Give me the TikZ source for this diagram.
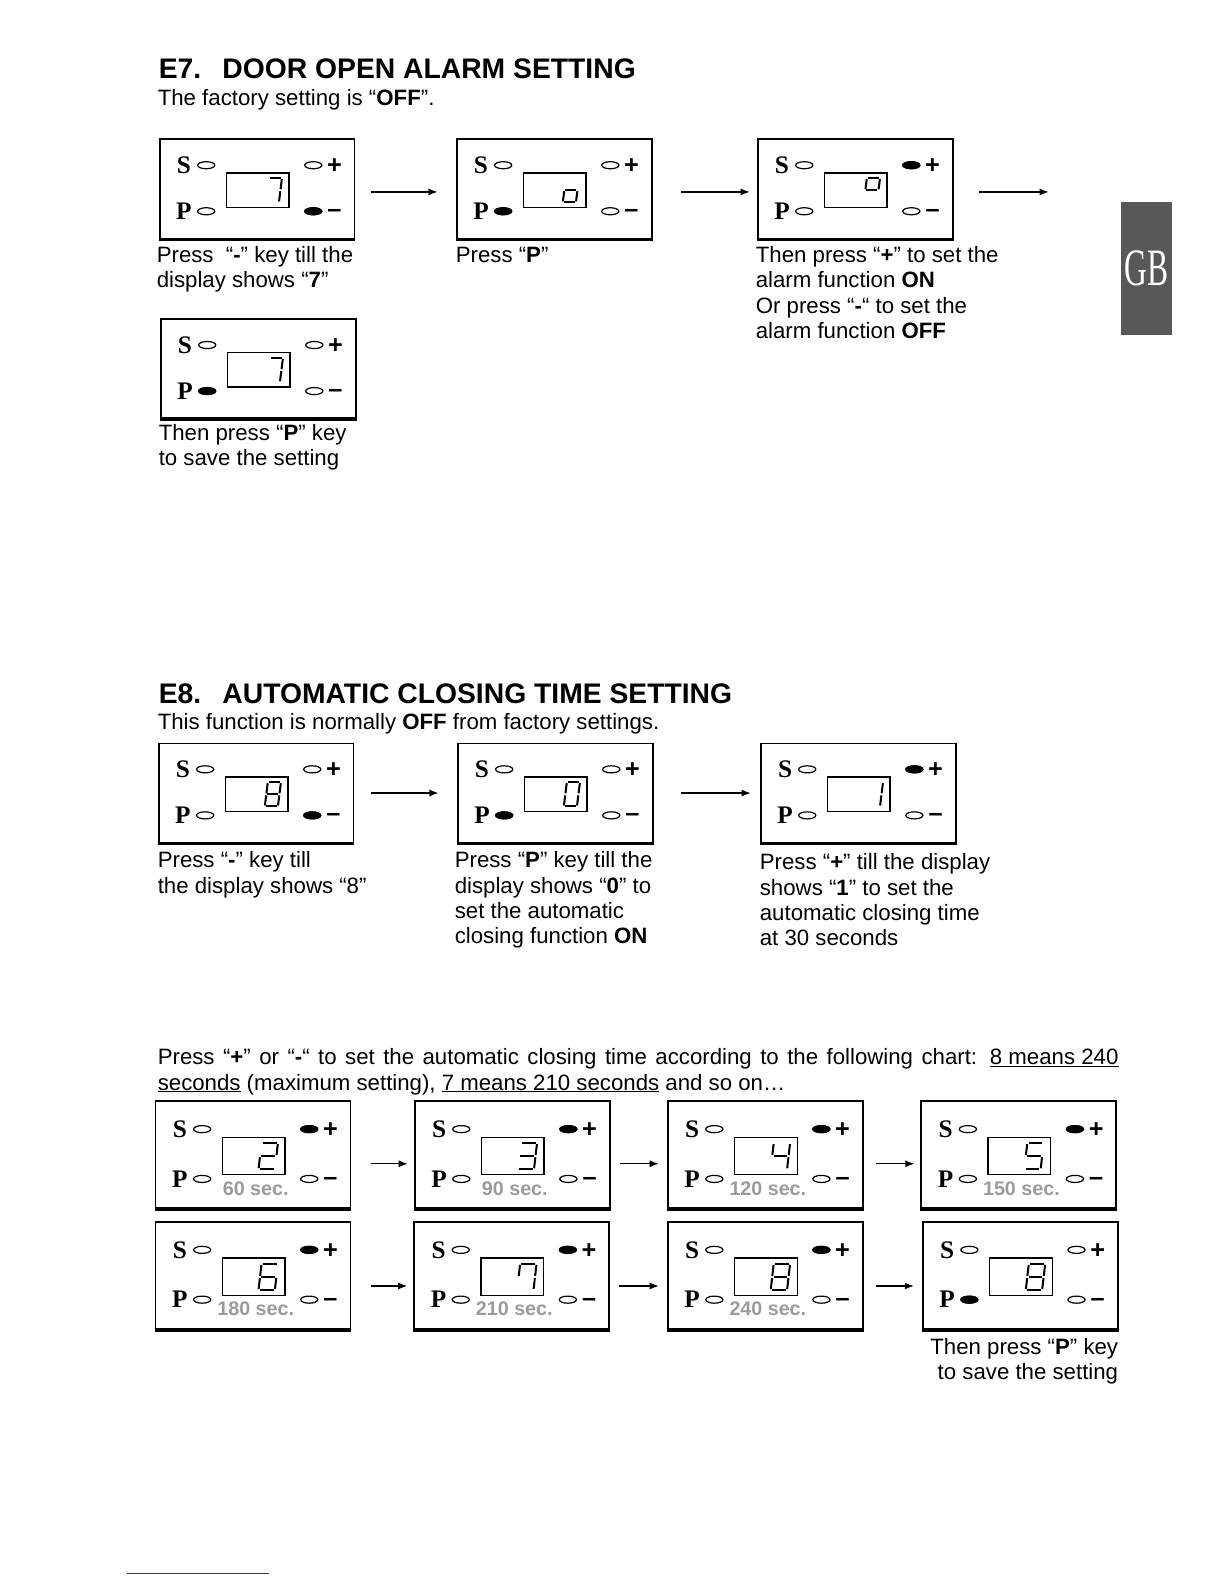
\documentclass[tikz,border=0pt]{standalone}
\usepackage{fontspec}
\setmainfont{Liberation Sans}
\newfontfamily\keyfont{Liberation Serif}
\usepackage{graphicx}
\usetikzlibrary{arrows.meta, calc}
\definecolor{gbgray}{HTML}{585858}
\definecolor{secgray}{HTML}{9A9A9A}
\definecolor{footblue}{HTML}{24386E}
\tikzset{
  panel/.style={draw, line width=1.8pt, minimum width=193pt, inner sep=0pt},
  display/.style={draw, line width=1.3pt},
  led/.style={draw, line width=1.2pt, fill=white},
  segment/.style={line width=2pt},
  keyletter/.style={font=\keyfont\bfseries\fontsize{25}{25}\selectfont, inner sep=0pt},
  keysign/.style={font=\bfseries\fontsize{25}{25}\selectfont, inner sep=0pt, anchor=base},
  seclabel/.style={font=\bfseries\fontsize{19.5}{20}\selectfont, text=secgray, inner sep=0pt, anchor=base},
  caption/.style={font=\fontsize{22}{25}\selectfont, align=left, inner sep=0pt, anchor=base west},
  heading/.style={font=\bfseries\fontsize{28}{32}\selectfont, inner sep=0pt, anchor=base west},
  arrow/.style={-{Latex[length=9pt, width=7pt]}, line width=1.2pt},
  gbtab/.style={fill=gbgray, minimum width=50pt, minimum height=132pt, inner sep=0pt,
                text=white, font=\keyfont\fontsize{52}{52}\selectfont}
}

% keypad: name, centre, height, lit segments, lit key (s,p,u,d), seconds label
\newcommand\keypad[6]{%
  \node[panel, minimum height=#3pt] (#1) at (#2) {};
  \draw[line width=2.5pt] ([yshift=-0.5pt]#1.south west) -- ([yshift=-0.5pt]#1.south east);
  \begin{scope}[shift={(#1.north west)}]
    \pgfmathsetmacro\rowS{0.27*#3}
    \pgfmathsetmacro\rowP{0.735*#3}
    \pgfmathsetmacro\digW{13+0.4*(#3-98)}
    \pgfmathsetmacro\digH{0.5*(0.245*#3)}
    \node[keyletter] at (25,\rowS) {S};
    \node[keyletter] at (25,\rowP) {P};
    \node[keysign] at (174,\rowS+8.5) {+};
    \node[keysign] at (174,\rowP+6.5) {–};
    \coordinate (#1-s) at (47,\rowS);
    \coordinate (#1-p) at (47,\rowP);
    \coordinate (#1-u) at (153,\rowS);
    \coordinate (#1-d) at (153,\rowP);
    \foreach \k in {s,p,u,d} \draw[led] (#1-\k) ellipse (8.5pt and 3.5pt);
    \fill (#1-#5) ellipse (9pt and 4pt);
    \draw[display] (67,0.347*#3) rectangle (129,0.694*#3);
    \begin{scope}[shift={(119-\digW,0.645*#3)}, x={(\digW pt,0pt)}, y={(1.5pt,\digH pt)}]
      \foreach \g/\xa/\ya/\xb/\yb in {a/0.08/2/0.92/2, b/1/1.92/1/1.08, c/1/0.92/1/0.08,
          d/0.08/0/0.92/0, e/0/0.08/0/0.92, f/0/1.08/0/1.92, g/0.08/1/0.92/1}
        {\coordinate (sg-\g-1) at (\xa,\ya); \coordinate (sg-\g-2) at (\xb,\yb);}
      \foreach \g in {#4} \draw[segment] (sg-\g-1) -- (sg-\g-2);
    \end{scope}
    \node[seclabel] at (100,0.887*#3) {#6};
  \end{scope}}

\begin{document}
\begin{tikzpicture}[x=1pt, y=-1pt]
  \useasboundingbox (0,0) rectangle (1212,1568);

  % E7
  \node[heading] (h7) at (157,78) {E7.\hspace{21pt}DOOR OPEN ALARM SETTING};
  \node[caption] (t7) at (156,104) {The factory setting is “\textbf{OFF}”.};

  \keypad{a1}{254.5,187}{98}{a,b,c}{d}{}
  \keypad{a2}{548.5,187}{98}{c,d,e,g}{p}{}
  \keypad{a3}{846.5,187}{98}{a,b,f,g}{u}{}
  \keypad{a4}{255.5,365}{98}{a,b,c}{p}{}
  \coordinate (a3end) at (1038,190);

  \draw[arrow, shorten <=15pt, shorten >=18pt] ([yshift=-3pt]a1.east) -- ([yshift=-3pt]a2.west);
  \draw[arrow, shorten <=28pt, shorten >=7pt] ([yshift=-3pt]a2.east) -- ([yshift=-3pt]a3.west);
  \draw[arrow, shorten <=25pt] ([yshift=-3pt]a3.east) -- (a3end);

  % multi-line captions sit on their last baseline
  \node[caption] (ca1) at (155,285) {Press\ \ “\textbf{-}” key till the\\display shows “\textbf{7}”};
  \node[caption] (ca2) at (451,260) {Press “\textbf{P}"};
  \node[caption] (ca3) at (748,335) {Then press “\textbf{+}” to set the\\alarm function \textbf{ON}\\Or press “\textbf{-}“ to set the\\alarm function \textbf{OFF}};
  \node[caption] (ca4) at (157,461) {Then press “\textbf{P}” key\\to save the setting};

  \node[gbtab] (gb) at (1135,266) {\scalebox{0.6}[1]{GB}};

  % E8
  \node[heading] (h8) at (157,696) {E8.\hspace{21pt}AUTOMATIC CLOSING TIME SETTING};
  \node[caption] (t8) at (156,722) {This function is normally \textbf{OFF} from factory settings.};

  \keypad{b1}{253.5,785}{98}{a,b,c,d,e,f,g}{d}{}
  \keypad{b2}{549.5,785}{98}{a,b,c,d,e,f}{p}{}
  \keypad{b3}{849.5,785}{98}{b,c}{u}{}

  \draw[arrow, shorten <=16pt, shorten >=18pt] (b1.east) -- (b2.west);
  \draw[arrow, shorten <=27pt, shorten >=9pt] (b2.east) -- (b3.west);

  \node[caption] (cb1) at (156,884) {Press “\textbf{-}” key till\\the display shows “8”};
  \node[caption] (cb2) at (450,934) {Press “\textbf{P}” key till the\\display shows “\textbf{0}” to\\set the automatic\\closing function \textbf{ON}};
  \node[caption] (cb3) at (752,936) {Press “\textbf{+}” till the display\\shows “\textbf{1}” to set the\\automatic closing time\\at 30 seconds};

  \node[caption, text width=951pt, align=justify] (chart) at (156,1054)
    {Press “\textbf{+}” or “\textbf{-}“ to set the automatic closing time according to the following chart: \underline{8 means 240}\linebreak
     \underline{seconds} (maximum setting), \underline{7 means 210 seconds} and so on…};

  \keypad{c1}{250.5,1143}{106}{a,b,g,e,d}{u}{60 sec.}
  \keypad{c2}{507,1143}{106}{a,b,g,c,d}{u}{90 sec.}
  \keypad{c3}{757.5,1143}{106}{f,g,b,c}{u}{120 sec.}
  \keypad{c4}{1008.5,1143}{106}{a,f,g,c,d}{u}{150 sec.}

  \keypad{d1}{250.5,1262.5}{106}{a,f,g,e,d,c}{u}{180 sec.}
  \keypad{d2}{506.5,1262.5}{106}{a,b,c,f}{u}{210 sec.}
  \keypad{d3}{757.5,1262.5}{106}{a,b,c,d,e,f,g}{u}{240 sec.}
  \keypad{d4}{1010,1262.5}{106}{a,b,c,d,e,f,g}{p}{}

  \draw[arrow, shorten <=19pt, shorten >=6pt] ([yshift=-9pt]c1.east) -- ([yshift=-9pt]c2.west);
  \draw[arrow, shorten <=9pt, shorten >=8pt] ([yshift=-9pt]c2.east) -- ([yshift=-9pt]c3.west);
  \draw[arrow, shorten <=12pt, shorten >=6pt] ([yshift=-9pt]c3.east) -- ([yshift=-9pt]c4.west);
  \draw[arrow, shorten <=19pt, shorten >=6pt] ([yshift=-10.5pt]d1.east) -- ([yshift=-10.5pt]d2.west);
  \draw[arrow, shorten <=9pt, shorten >=8pt] ([yshift=-10.5pt]d2.east) -- ([yshift=-10.5pt]d3.west);
  \draw[arrow, shorten <=12pt, shorten >=8pt] ([yshift=-10.5pt]d3.east) -- ([yshift=-10.5pt]d4.west);

  \node[caption, align=right, anchor=base east] (cd4) at (1107,1366) {Then press “\textbf{P}” key\\to save the setting};

  \draw[footblue, line width=1pt] (126,1558) -- (266,1558);
\end{tikzpicture}
\end{document}
